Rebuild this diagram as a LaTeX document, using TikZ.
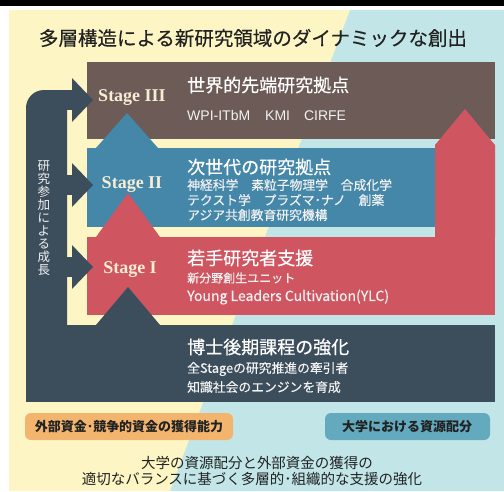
\documentclass[tikz,border=0pt]{standalone}
\usepackage{fontspec}
\setmainfont{Noto Sans CJK JP}
\newfontfamily\jpm[FakeBold=0.5]{Noto Sans CJK JP}
\newfontfamily\jps[FakeBold=0.35]{Noto Sans CJK JP}
\newfontfamily\stagefont{Liberation Serif}
\definecolor{bgyellow}{HTML}{FDF6C4}
\definecolor{bgcyan}{HTML}{C2E6E8}
\definecolor{cbrown}{HTML}{6D5B57}
\definecolor{cblue}{HTML}{4487A8}
\definecolor{cred}{HTML}{CF5660}
\definecolor{cdark}{HTML}{3C4D5C}
\definecolor{corange}{HTML}{F3B56E}
\definecolor{cteal}{HTML}{63AABF}
\definecolor{stagecol}{HTML}{F6EDD5}
\definecolor{titlecol}{HTML}{222222}
\definecolor{subcol}{HTML}{F2F2F2}
\tikzset{
  stagelabel/.style={text=stagecol, inner sep=0pt, font=\stagefont\bfseries\fontsize{18}{20}\selectfont},
  headtext/.style={anchor=west, text=white, inner sep=0pt, font=\jpm\fontsize{18}{20}\selectfont},
  subtext/.style={anchor=west, text=subcol, inner sep=0pt, font=\jps\fontsize{12.8}{14}\selectfont},
  pilltext/.style={text=titlecol, inner sep=0pt, font=\bfseries\fontsize{13}{14}\selectfont},
  bottomtext/.style={text=titlecol, inner sep=0pt, font=\fontsize{14.5}{16}\selectfont},
}
\begin{document}
\begin{tikzpicture}[x=1pt,y=-1pt]
\useasboundingbox (0,0) rectangle (504,491);
\fill[white] (0,0) rectangle (504,491);
\fill[black] (0,0) rectangle (504,6);
% background panel
\fill[bgyellow] (9,10) rectangle (504,491);
\fill[bgcyan] (350,10) -- (504,10) -- (504,491) -- (170,491) -- cycle;
% Stage III box
\fill[cbrown] (87,62) rectangle (495,139);
% Stage II box and arrow
\fill[cblue] (87,148) rectangle (435,227);
\fill[cblue] (96,148) -- (127,113) -- (158,148) -- cycle;
% Stage I box and arrows
\fill[cred] (87,237) rectangle (495,315);
\fill[cred] (435,237) -- (435,145) -- (465,109) -- (495,145) -- (495,237) -- cycle;
\fill[cred] (96,237) -- (128,193) -- (160,237) -- cycle;
% doctoral box, bar and arrows
\fill[cdark] (26,325) rectangle (495,402);
\fill[cdark] (26,330) -- (26,108) .. controls (26,98) and (34,90) .. (44,90) -- (67,90) -- (67,330) -- cycle;
\fill[cdark] (96,325) -- (128,287) -- (160,325) -- cycle;
\foreach \c in {100,185,267} {
  \fill[cdark] (60,\c-10) rectangle (73,\c+10);
  \fill[cdark] (72,\c-22) -- (93,\c) -- (72,\c+22) -- cycle;
}
% pills
\fill[corange, rounded corners=6pt] (25,413) rectangle (233,440);
\fill[cteal, rounded corners=6pt] (325,413) rectangle (490,440);

% texts
\node[text=titlecol, inner sep=0pt, font=\jps\fontsize{19.5}{22}\selectfont] (title) at (253,38) {多層構造による新研究領域のダイナミックな創出};

\node[stagelabel] (s3) at (132,98) {Stage III};
\node[stagelabel] (s2) at (132,185) {Stage II};
\node[stagelabel] (s1) at (130,270) {Stage I};

\node[headtext] (h3) at (187,85) {世界的先端研究拠点};
\node[subtext, font=\fontspec{Liberation Sans}\fontsize{14}{16}\selectfont] (h3a) at (187,115) {WPI-ITbM\hspace{15pt}KMI\hspace{14pt}CIRFE};

\node[headtext] (h2) at (187,167) {次世代の研究拠点};
\node[subtext] (h2a) at (187,185) {神経科学　素粒子物理学　合成化学};
\node[subtext] (h2b) at (187,200) {テクスト学　プラズマ･ナノ　創薬};
\node[subtext] (h2c) at (187,215) {アジア共創教育研究機構};

\node[headtext] (h1) at (187,258) {若手研究者支援};
\node[subtext, font=\jps\fontsize{12}{14}\selectfont] (h1a) at (187,278) {新分野創生ユニット};
\node[subtext, font=\jps\fontsize{14}{16}\selectfont] (h1b) at (187,297) {Young Leaders Cultivation(YLC)};

\node[headtext] (h0) at (187,347) {博士後期課程の強化};
\node[subtext] (h0a) at (187,369) {全Stageの研究推進の牽引者};
\node[subtext] (h0b) at (187,387) {知識社会のエンジンを育成};

\node[text=subcol, inner sep=0pt, align=center, font=\fontsize{12.5}{13}\selectfont] (vert) at (44,218) {研\\究\\参\\加\\に\\よ\\る\\成\\長};

\node[pilltext] (p1) at (129,427) {外部資金･競争的資金の獲得能力};
\node[pilltext] (p2) at (407,427) {大学における資源配分};

\node[bottomtext] (b1) at (257,463) {大学の資源配分と外部資金の獲得の};
\node[bottomtext] (b2) at (252,479) {適切なバランスに基づく多層的･組織的な支援の強化};
\end{tikzpicture}
\end{document}
